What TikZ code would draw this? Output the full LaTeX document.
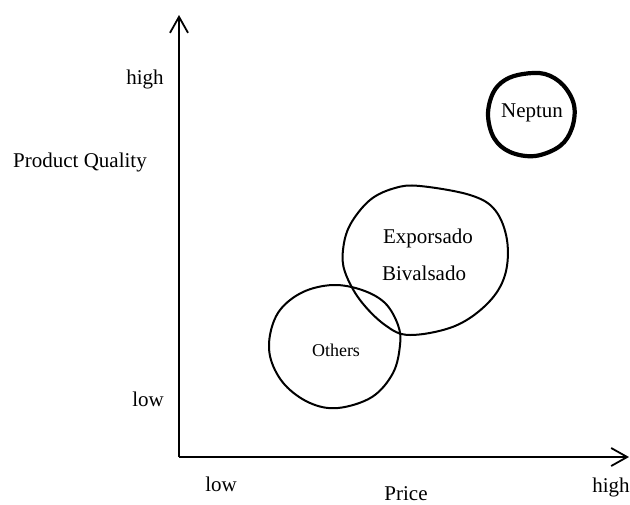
\documentclass[tikz,border=0pt]{standalone}
\usepackage{fontspec}
\setmainfont{Liberation Serif}
\usetikzlibrary{arrows.meta}
\begin{document}
\begin{tikzpicture}[x=0.5pt,y=-0.5pt,
  axis/.style={line width=1.2pt,-{Straight Barb[length=8pt,width=9pt,line width=0.9pt]}},
  blob/.style={line width=1pt},
  boldblob/.style={line width=2.1pt},
  lbl/.style={font=\fontsize{10.5}{12}\selectfont,inner sep=0pt},
  smalllbl/.style={font=\fontsize{9}{11}\selectfont,inner sep=0pt}]
\useasboundingbox (0,0) rectangle (630,504);

% axes
\coordinate (origin) at (179,457);
\coordinate (ytip) at (179,15);
\coordinate (xtip) at (629,457);
\draw[axis] (origin) -- (ytip);
\draw[axis] (origin) -- (xtip);

% axis labels
\node[lbl] (yhigh) at (145,79) {high};
\node[lbl] (ylabel) at (80,162) {Product Quality};
\node[lbl] (ylow) at (148,399) {low};
\node[lbl] (xlow) at (221,484) {low};
\node[lbl] (xlabel) at (406,494) {Price};
\node[lbl] (xhigh) at (611,487) {high};

% hand-drawn regions
\draw[blob] plot[smooth cycle, tension=0.6] coordinates {
  (420,186) (470,195) (495,210) (507,240) (505,275) (488,303) (455,326)
  (410,335) (385,325) (360,300) (345,272) (343,250) (350,225) (370,200) (395,188)};
\draw[blob] plot[smooth cycle, tension=0.6] coordinates {
  (333,285) (362,290) (385,303) (398,325) (400,345) (393,373) (372,397)
  (338,408) (310,403) (285,385) (271,360) (270,335) (280,310) (303,292)};
\draw[boldblob] plot[smooth cycle, tension=0.6] coordinates {
  (523,74) (545,74) (563,85) (574,105) (572,128) (560,146) (535,156)
  (510,152) (494,138) (488,115) (493,93) (505,80)};

% region labels
\node[lbl] (neptun) at (532,113) {Neptun};
\node[lbl] (expo) at (428,238) {Exporsado};
\node[lbl] (biva) at (424,273) {Bivalsado};
\node[smalllbl] (others) at (336,350) {Others};
\end{tikzpicture}
\end{document}
